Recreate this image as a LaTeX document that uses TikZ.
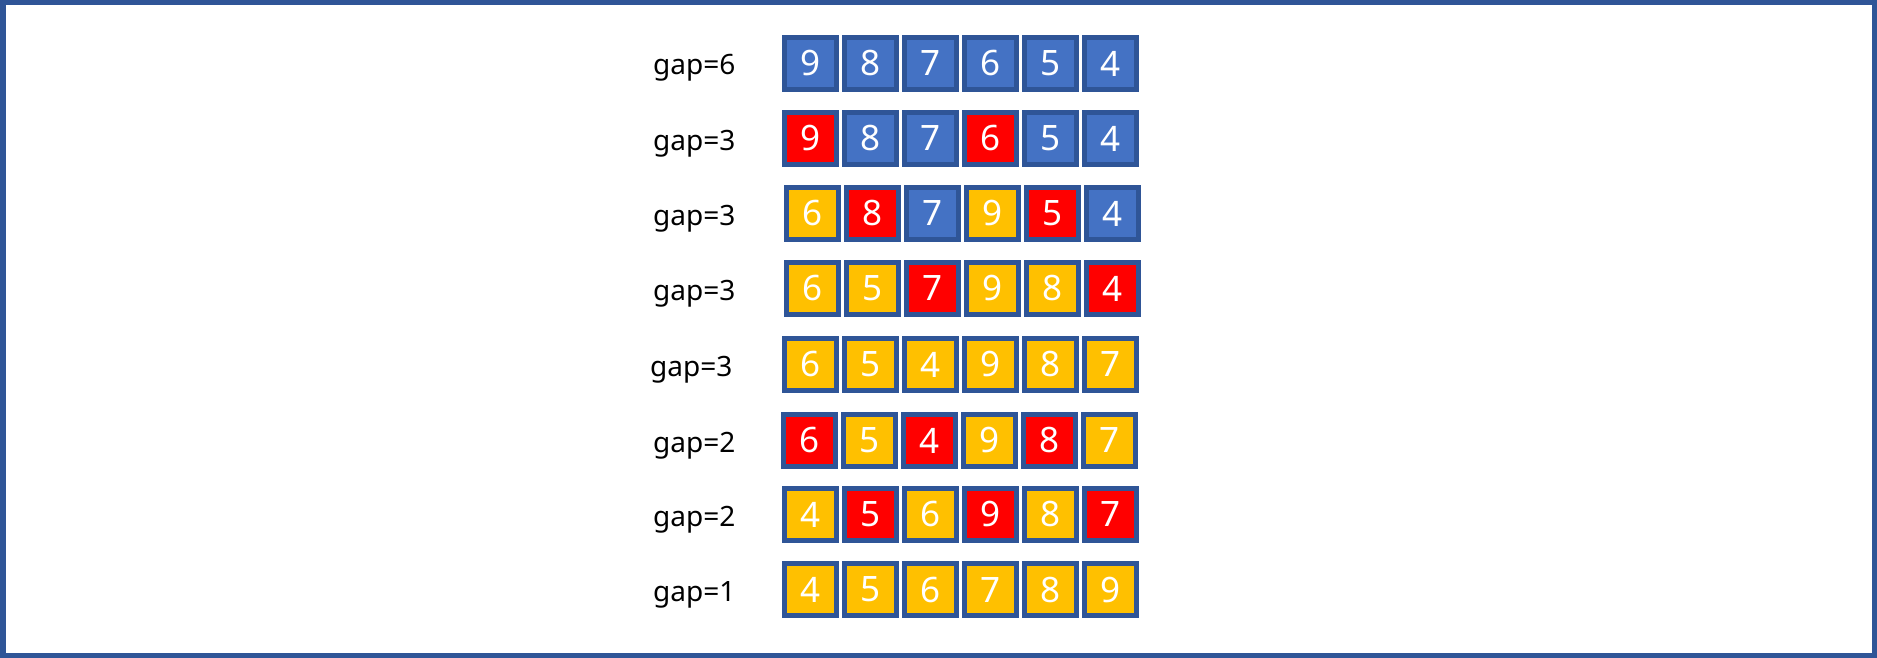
\documentclass[tikz,border=0pt]{standalone}
\usepackage{fontspec}
\setmainfont{Noto Sans}
\definecolor{frameblue}{HTML}{2F5597}
\definecolor{cellblue}{HTML}{4472C4}
\definecolor{cellred}{HTML}{FF0000}
\definecolor{cellyellow}{HTML}{FFC000}
\tikzset{
  cell/.style={draw=frameblue, line width=5pt, minimum size=52pt, inner sep=0pt,
    text=white, font=\fontsize{35}{37}\selectfont, anchor=north west, outer sep=0pt},
  B/.style={cell, fill=cellblue},
  R/.style={cell, fill=cellred},
  Y/.style={cell, fill=cellyellow},
  gaplabel/.style={anchor=base west, inner sep=0pt, font=\fontsize{28}{30}\selectfont, text=black}
}
\begin{document}
\begin{tikzpicture}[x=1pt,y=-1pt]
\useasboundingbox (0,0) rectangle (1877,658);
\draw[frameblue, line width=5.5pt] (2.75,2.75) rectangle (1874.25,655.25);
% rows: label, label x, x-start, y-top, list of style/number
\foreach \r/\lab/\lx/\xs/\yt/\cells in {
  1/gap=6/653/782/35/{B/9,B/8,B/7,B/6,B/5,B/4},
  2/gap=3/653/782/110/{R/9,B/8,B/7,R/6,B/5,B/4},
  3/gap=3/653/784/185/{Y/6,R/8,B/7,Y/9,R/5,B/4},
  4/gap=3/653/784/260/{Y/6,Y/5,R/7,Y/9,Y/8,R/4},
  5/gap=3/650/782/336/{Y/6,Y/5,Y/4,Y/9,Y/8,Y/7},
  6/gap=2/653/781/412/{R/6,Y/5,R/4,Y/9,R/8,Y/7},
  7/gap=2/653/782/486/{Y/4,R/5,Y/6,R/9,Y/8,R/7},
  8/gap=1/653/782/561/{Y/4,Y/5,Y/6,Y/7,Y/8,Y/9}} {
  \foreach \st/\n [count=\i from 0] in \cells {
    \node[\st] (c\r-\i) at ({\xs+2.5+60*\i},{\yt+2.5}) {\n};
  }
  \node[gaplabel] (l\r) at (\lx,{\yt+40}) {\lab};
}
\end{tikzpicture}
\end{document}
